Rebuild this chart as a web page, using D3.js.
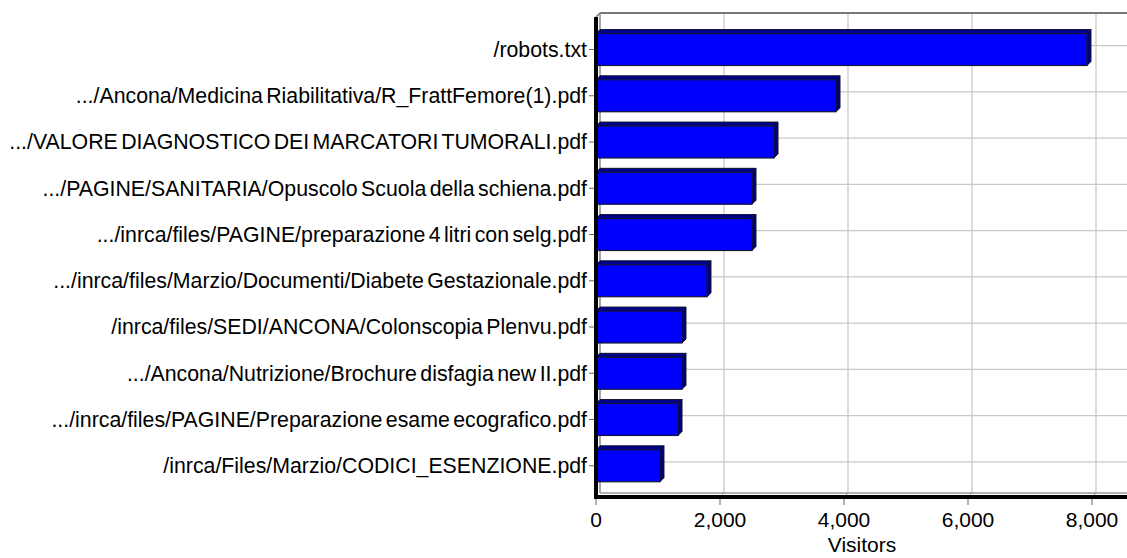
<!DOCTYPE html>
<html>
<head>
<meta charset="utf-8">
<script src="https://cdn.jsdelivr.net/npm/d3@7"></script>
<style>
html,body{margin:0;padding:0;background:#fff;}
svg{display:block;}
text{font-family:"Liberation Sans",Arial,sans-serif;fill:#000;}
</style>
</head>
<body>
<svg id="chart" width="1127" height="558"></svg>
<script>
const categories = [
  "/robots.txt",
  ".../Ancona/Medicina Riabilitativa/R_FrattFemore(1).pdf",
  ".../VALORE DIAGNOSTICO DEI MARCATORI TUMORALI.pdf",
  ".../PAGINE/SANITARIA/Opuscolo Scuola della schiena.pdf",
  ".../inrca/files/PAGINE/preparazione 4 litri con selg.pdf",
  ".../inrca/files/Marzio/Documenti/Diabete Gestazionale.pdf",
  "/inrca/files/SEDI/ANCONA/Colonscopia Plenvu.pdf",
  ".../Ancona/Nutrizione/Brochure disfagia new II.pdf",
  ".../inrca/files/PAGINE/Preparazione esame ecografico.pdf",
  "/inrca/Files/Marzio/CODICI_ESENZIONE.pdf"
];
const visitors = [7919, 3871, 2871, 2516, 2516, 1790, 1387, 1387, 1323, 1032];
const xTicks = [0, 2000, 4000, 6000, 8000];
const xTitle = "Visitors";

const W = 1127, H = 558;
const D = 4; // depth offset
const svg = d3.select("#chart");

const x = d3.scaleLinear().domain([0, 9000]).range([596, 596 + 558]);
const y = d3.scaleBand().domain(categories).range([22.4, 484.9]).paddingInner(0.31).paddingOuter(0.155);

const backTop = 13, backBottom = 493, frontBottom = 497;
const fmt = d3.format(",");

// back wall gridlines
const g = svg.append("g");
g.selectAll("line.vg").data(xTicks.slice(1)).join("line")
  .attr("x1", d => x(d) + D).attr("x2", d => x(d) + D)
  .attr("y1", backTop).attr("y2", backBottom)
  .attr("stroke", "#dcdcdc").attr("stroke-width", 2);
g.selectAll("line.hg").data(categories).join("line")
  .attr("x1", x(0) + D).attr("x2", W)
  .attr("y1", d => y(d) + y.bandwidth()/2).attr("y2", d => y(d) + y.bandwidth()/2)
  .attr("stroke", "#c8c8c8").attr("stroke-width", 1.2);

// back wall frame
g.append("line").attr("x1", x(0)+D).attr("x2", W).attr("y1", backTop).attr("y2", backTop)
  .attr("stroke", "#777").attr("stroke-width", 2);
g.append("line").attr("x1", x(0)+D).attr("x2", x(0)+D).attr("y1", backTop).attr("y2", backBottom)
  .attr("stroke", "#888").attr("stroke-width", 1.5);
g.append("line").attr("x1", x(0)+D).attr("x2", W).attr("y1", backBottom).attr("y2", backBottom)
  .attr("stroke", "#999").attr("stroke-width", 1.5);
g.append("line").attr("x1", x(0)).attr("x2", x(0)+D).attr("y1", backTop+D).attr("y2", backTop)
  .attr("stroke", "#777").attr("stroke-width", 1.5);
// depth connectors at bottom ticks
g.selectAll("line.dc").data(xTicks.slice(1)).join("line")
  .attr("x1", d => x(d)).attr("x2", d => x(d) + D)
  .attr("y1", frontBottom).attr("y2", backBottom)
  .attr("stroke", "#888").attr("stroke-width", 1);

// bars
const bars = svg.append("g").selectAll("g").data(categories).join("g");
const x0 = x(0);
bars.append("polygon") // top face
  .attr("points", (d,i) => {
    const t = y(d), xe = x(visitors[i]);
    return [[x0, t + D], [x0 + D, t], [xe + D, t], [xe, t + D]].join(" ");
  })
  .attr("fill", "#00008c").attr("stroke", "#111133").attr("stroke-width", 1);
bars.append("polygon") // side face
  .attr("points", (d,i) => {
    const t = y(d), b = t + y.bandwidth(), xe = x(visitors[i]);
    return [[xe, t + D], [xe + D, t], [xe + D, b], [xe, b + D]].join(" ");
  })
  .attr("fill", "#000078").attr("stroke", "#111133").attr("stroke-width", 1);
bars.append("rect") // front face
  .attr("x", x0).attr("y", d => y(d) + D)
  .attr("width", (d,i) => x(visitors[i]) - x0)
  .attr("height", y.bandwidth())
  .attr("fill", "#0000ff").attr("stroke", "#14143a").attr("stroke-width", 1.2);

// front axes
svg.append("line").attr("x1", x0).attr("x2", x0).attr("y1", backTop + D).attr("y2", frontBottom + 2)
  .attr("stroke", "#000").attr("stroke-width", 4);
svg.append("line").attr("x1", x0 - 2).attr("x2", W).attr("y1", frontBottom).attr("y2", frontBottom)
  .attr("stroke", "#000").attr("stroke-width", 4);

// y axis ticks & labels
const ya = svg.append("g");
ya.selectAll("line").data(categories).join("line")
  .attr("x1", x0 - 7).attr("x2", x0 - 2)
  .attr("y1", d => y(d) + D + y.bandwidth()/2).attr("y2", d => y(d) + D + y.bandwidth()/2)
  .attr("stroke", "#666").attr("stroke-width", 1);
ya.selectAll("text").data(categories).join("text")
  .attr("x", x0 - 9)
  .attr("y", d => y(d) + D + y.bandwidth()/2)
  .attr("dy", "0.35em")
  .attr("text-anchor", "end")
  .attr("font-size", 21.3)
  .attr("word-spacing", -2.5)
  .text(d => d);

// x axis ticks & labels
const xa = svg.append("g");
xa.selectAll("line").data(xTicks).join("line")
  .attr("x1", d => x(d)).attr("x2", d => x(d))
  .attr("y1", frontBottom + 2).attr("y2", frontBottom + 8)
  .attr("stroke", "#666").attr("stroke-width", 1);
xa.selectAll("text").data(xTicks).join("text")
  .attr("x", d => x(d)).attr("y", 527)
  .attr("text-anchor", "middle")
  .attr("font-size", 21)
  .text(d => fmt(d));
svg.append("text").attr("x", 862).attr("y", 552)
  .attr("text-anchor", "middle").attr("font-size", 21)
  .text(xTitle);
</script>
</body>
</html>
